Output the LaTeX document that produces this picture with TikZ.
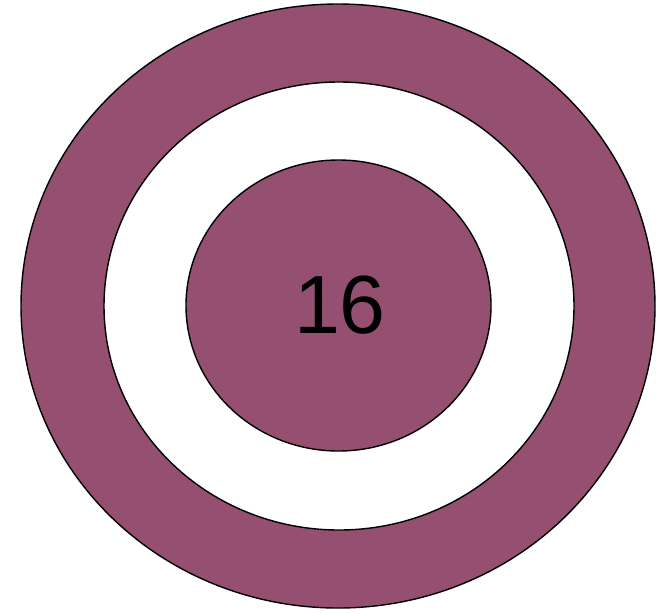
\documentclass[tikz,border=0pt]{standalone}
\usepackage{fontspec}
\setmainfont{Liberation Sans}
\definecolor{ringplum}{HTML}{955071}

\begin{document}
\begin{tikzpicture}[x=0.02cm, y=-0.02cm,
    ring/.style={draw=black, line width=0.8pt, fill=#1},
]
    \useasboundingbox (0,0) rectangle (656,613);

    % Rings from outside in
    \path[ring=ringplum] (338,306) ellipse [x radius=317, y radius=302];
    \path[ring=white] (339,306) ellipse [x radius=235, y radius=224];
    \path[ring=ringplum] (338.5,305.5) ellipse [x radius=152.5, y radius=145.5];

    % Value
    \node[font=\fontsize{47}{56}\selectfont, inner sep=0pt] (val) at (340,305) {16};
\end{tikzpicture}
\end{document}
